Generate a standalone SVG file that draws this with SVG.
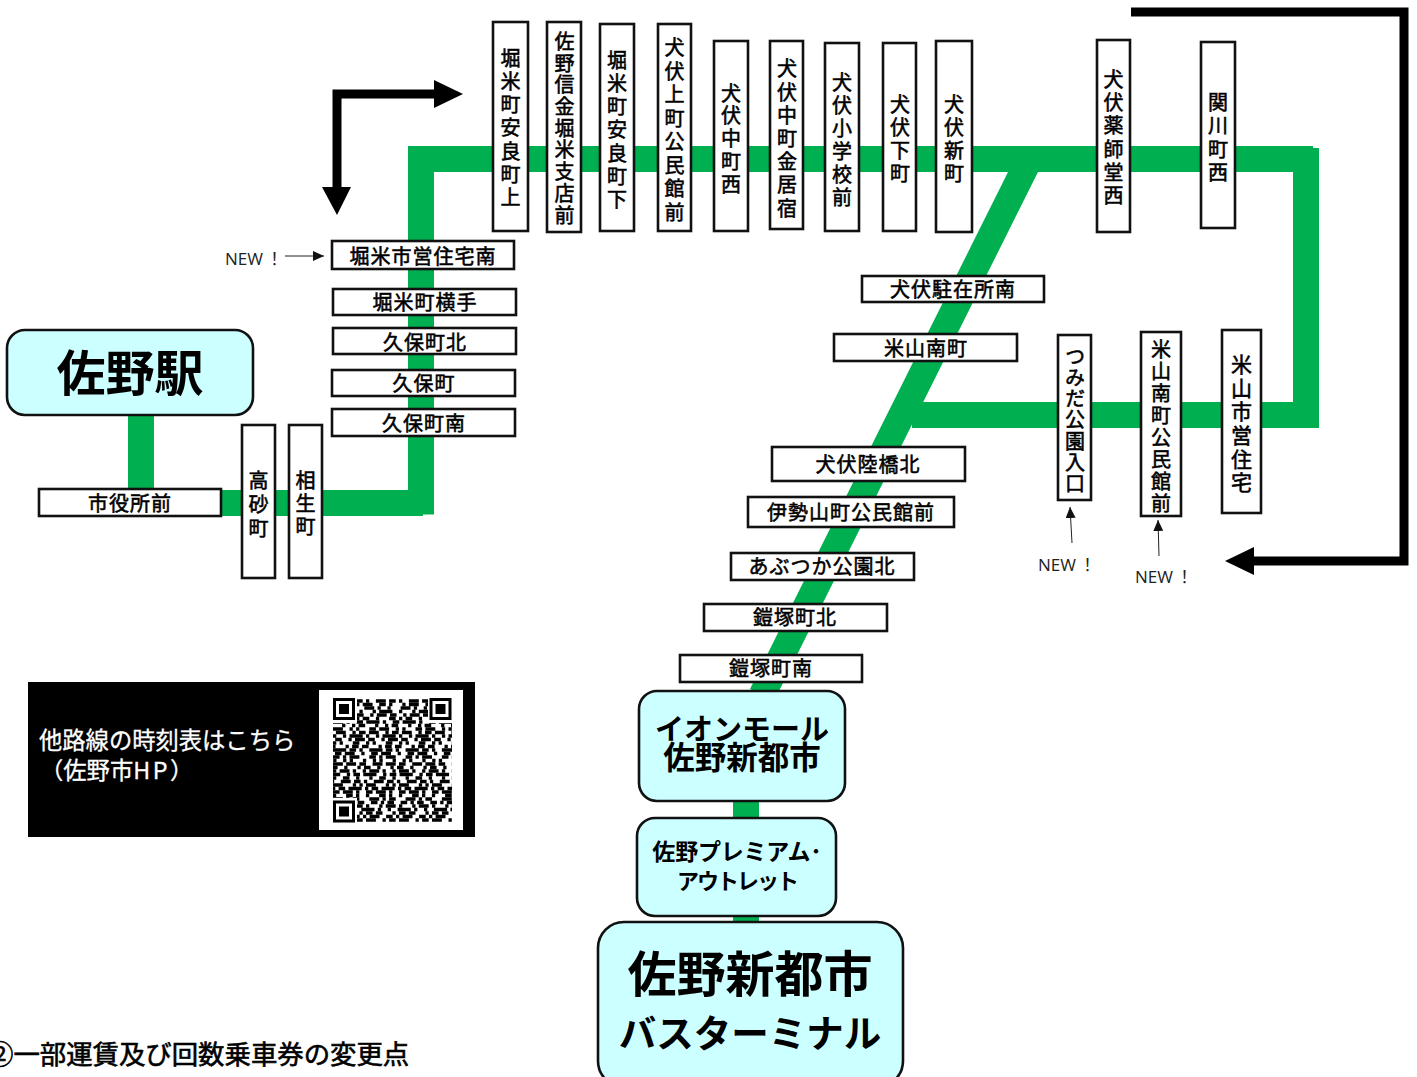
<svg xmlns="http://www.w3.org/2000/svg" width="1417" height="1077" viewBox="0 0 1417 1077">
<defs>
<style>
text{font-family:"Noto Sans CJK JP","Noto Sans",sans-serif;fill:#000}
.st{fill:#fff;stroke:#111;stroke-width:2.6}
.hub{fill:#ccffff;stroke:#111;stroke-width:2.6}
.h{font-size:20px;stroke:#000;stroke-width:.55px;letter-spacing:1px;text-anchor:middle}
.v{font-size:20px;stroke:#000;stroke-width:.55px;letter-spacing:3.2px;text-anchor:middle;writing-mode:vertical-rl}
.v2{letter-spacing:2.6px;font-size:21px}
.hb{font-weight:700;text-anchor:middle}
.new{font-family:"Open Sans","Noto Sans CJK JP",sans-serif;font-size:17px;fill:#222}
.line{fill:none;stroke:#00b050;stroke-width:26}
.diag{fill:none;stroke:#00b050;stroke-width:26.800}
.bk{fill:none;stroke:#000;stroke-width:9}
.thin{fill:none;stroke:#222;stroke-width:1;marker-end:url(#tip)}
.q{fill:none;stroke:#000;stroke-width:3.3}
.info{fill:#fff;stroke:#fff;stroke-width:.3px;font-size:23.300px}
</style>
<marker id="tip" markerUnits="userSpaceOnUse" markerWidth="12" markerHeight="10" refX="11" refY="5" orient="auto"><path d="M0 0L11 5L0 10Z" fill="#111"/></marker>
</defs>
<g id="connectors">
<path class="line" d="M141 415V503H423"/>
<path class="line" d="M421 514.500V159H1313"/>
<path class="line" d="M1306 148V415H912"/>
<path class="diag" d="M1029.500 159L762 695"/>
<path class="line" d="M746 800V820M746 915V925"/>
<path class="bk" d="M1131 12H1404V561H1250"/>
<path d="M1225 561L1254 547V575Z"/>
<path class="bk" d="M337 190V94H437"/>
<path d="M337 215L322 187H351Z"/>
<path d="M463 94L434 80V108Z"/>
<path class="thin" d="M285 256H324"/>
<path class="thin" d="M1072 543L1070 507"/>
<path class="thin" d="M1159 556L1158 520"/>
</g>
<g id="n-sano"><rect class="hub" x="7" y="330" width="246" height="85" rx="18"/><text class="hb" x="130" y="391" font-size="49">佐野駅</text></g>
<g id="n-shiyakusho"><rect class="st" x="39" y="489" width="182" height="27"/><text class="h" x="130" y="511">市役所前</text></g>
<g id="n-takasago"><rect class="st" x="242" y="425" width="33" height="153"/><text class="v" x="258.500" y="506" style="letter-spacing:4px">高砂町</text></g>
<g id="n-aioi"><rect class="st" x="289" y="425" width="33" height="153"/><text class="v" x="305.500" y="505" style="letter-spacing:3.200px">相生町</text></g>
<g id="n-kubominami"><rect class="st" x="332" y="409" width="183" height="27"/><text class="h" x="424" y="431">久保町南</text></g>
<g id="n-kubo"><rect class="st" x="332" y="370" width="183" height="26"/><text class="h" x="424" y="391">久保町</text></g>
<g id="n-kubokita"><rect class="st" x="333" y="328" width="183" height="26"/><text class="h" x="425" y="350">久保町北</text></g>
<g id="n-horiyokote"><rect class="st" x="333" y="289" width="183" height="26"/><text class="h" x="425" y="310">堀米町横手</text></g>
<g id="n-horijutaku"><rect class="st" x="332" y="241" width="182" height="28"/><text class="h" x="423" y="264">堀米市営住宅南</text></g>
<g id="n-new1"><text class="new" x="225" y="265">NEW<tspan dx="3">！</tspan></text></g>
<g id="n-s1"><rect class="st" x="493" y="22" width="35" height="209"/><text class="v" x="510.500" y="129.500">堀米町安良町上</text></g>
<g id="n-s2"><rect class="st" x="547" y="22" width="34" height="210"/><text class="v" x="564.500" y="129" style="letter-spacing:1.700px">佐野信金堀米支店前</text></g>
<g id="n-s3"><rect class="st" x="600" y="24" width="34" height="207"/><text class="v" x="617" y="131.500">堀米町安良町下</text></g>
<g id="n-s4"><rect class="st" x="658" y="24" width="33" height="207"/><text class="v" x="674.500" y="131.500" style="letter-spacing:3.500px">犬伏上町公民館前</text></g>
<g id="n-s5"><rect class="st" x="714" y="41" width="34" height="190"/><text class="v" x="731" y="140" style="letter-spacing:2.800px">犬伏中町西</text></g>
<g id="n-s6"><rect class="st" x="770" y="41" width="33" height="188"/><text class="v" x="787" y="140">犬伏中町金居宿</text></g>
<g id="n-s7"><rect class="st" x="825" y="43" width="34" height="188"/><text class="v" x="842" y="141" style="letter-spacing:3px">犬伏小学校前</text></g>
<g id="n-s8"><rect class="st" x="883" y="43" width="33" height="188"/><text class="v" x="900" y="140" style="letter-spacing:3px">犬伏下町</text></g>
<g id="n-s9"><rect class="st" x="936" y="41" width="36" height="191"/><text class="v" x="954" y="140" style="letter-spacing:3px">犬伏新町</text></g>
<g id="n-s10"><rect class="st" x="1097" y="40" width="33" height="192"/><text class="v" x="1113.500" y="139">犬伏薬師堂西</text></g>
<g id="n-s11"><rect class="st" x="1201" y="42" width="34" height="186"/><text class="v" x="1218" y="139">関川町西</text></g>
<g id="n-chuzai"><rect class="st" x="862" y="276" width="182" height="26"/><text class="h" x="953" y="297">犬伏駐在所南</text></g>
<g id="n-yonanmachi"><rect class="st" x="834" y="334" width="183" height="27"/><text class="h" x="926" y="356">米山南町</text></g>
<g id="n-tsumida"><rect class="st" x="1058" y="335" width="33" height="165"/><text class="v" x="1075" y="420.500" style="letter-spacing:1.200px">つみだ公園入口</text></g>
<g id="n-yonkominkan"><rect class="st" x="1141" y="332" width="40" height="184"/><text class="v" x="1161" y="427" style="letter-spacing:2px">米山南町公民館前</text></g>
<g id="n-yonjutaku"><rect class="st" x="1222" y="330" width="39" height="183"/><text class="v v2" x="1241.500" y="424.500">米山市営住宅</text></g>
<g id="n-new2"><text class="new" x="1038" y="571">NEW<tspan dx="3">！</tspan></text></g>
<g id="n-new3"><text class="new" x="1135" y="583">NEW<tspan dx="3">！</tspan></text></g>
<g id="n-rikkyo"><rect class="st" x="772" y="447" width="193" height="34"/><text class="h" x="868" y="472">犬伏陸橋北</text></g>
<g id="n-iseyama"><rect class="st" x="748" y="497" width="206" height="30"/><text class="h" x="851" y="520">伊勢山町公民館前</text></g>
<g id="n-abutsuka"><rect class="st" x="731" y="553" width="183" height="27"/><text class="h" x="822" y="574">あぶつか公園北</text></g>
<g id="n-abukita"><rect class="st" x="704" y="604" width="183" height="27"/><text class="h" x="795" y="625">鎧塚町北</text></g>
<g id="n-abuminami"><rect class="st" x="680" y="655" width="182" height="27"/><text class="h" x="771" y="676">鎧塚町南</text></g>
<g id="n-aeon"><rect class="hub" x="639" y="691" width="206" height="110" rx="18"/><text class="hb" x="742" y="740" font-size="29">イオンモール</text><text class="hb" x="742" y="769" font-size="31.500">佐野新都市</text></g>
<g id="n-outlet"><rect class="hub" x="637" y="818" width="199" height="98" rx="18"/><text class="hb" x="737" y="860" font-size="23" style="letter-spacing:-.2px">佐野プレミアム･</text><text class="hb" x="737" y="889" font-size="22" style="letter-spacing:-2px">アウトレット</text></g>
<g id="n-terminal"><rect class="hub" x="598" y="922" width="305" height="165" rx="26"/><text class="hb" x="750" y="992" font-size="49">佐野新都市</text><text class="hb" x="750" y="1047" font-size="37.500">バスターミナル</text></g>
<g id="info">
<rect x="28" y="682" width="447" height="155" fill="#000"/>
<text class="info" x="39" y="749">他路線の時刻表はこちら</text>
<text class="info" x="40" y="779">（佐野市<tspan style="letter-spacing:2.500px">HP</tspan>）</text>
<rect x="319" y="690" width="144" height="140" fill="#fff"/>
<g id="qr">
<g class="q">
<path d="M333 701H452" stroke-dasharray="3.300 6.600 9.900 3.300 6.600 3.300"/>
<path d="M333 704.500H452" stroke-dasharray="6.600 3.300 3.300 9.900 3.300 3.300 9.900 6.600"/>
<path d="M333 708H452" stroke-dasharray="9.900 3.300 3.300 6.600 3.300 9.900" stroke-dashoffset="5"/>
<path d="M333 711.500H452" stroke-dasharray="3.300 3.300 13.200 6.600 3.300 9.900"/>
<path d="M333 715H452" stroke-dasharray="6.600 6.600 3.300 3.300 9.900 3.300" stroke-dashoffset="9"/>
<path d="M333 718.500H452" stroke-dasharray="3.300 9.900 6.600 3.300 3.300 3.300 6.600 6.600"/>
<path d="M333 722H452" stroke-dasharray="13.200 3.300 3.300 6.600 6.600 3.300" stroke-dashoffset="3"/>
<path d="M333 725.500H452" stroke-dasharray="3.300 3.300 6.600 9.900 3.300 6.600" stroke-dashoffset="14"/>
<path d="M333 729H452" stroke-dasharray="9.900 6.600 3.300 3.300 3.300 9.900 6.600 3.300"/>
<path d="M333 732.500H452" stroke-dasharray="6.600 3.300 9.900 6.600 3.300 3.300" stroke-dashoffset="7"/>
<path d="M333 736H452" stroke-dasharray="3.300 6.600 3.300 3.300 13.200 3.300"/>
<path d="M333 739.500H452" stroke-dasharray="9.900 3.300 6.600 6.600 3.300 3.300" stroke-dashoffset="11"/>
<path d="M333 743H452" stroke-dasharray="3.300 3.300 3.300 9.900 6.600 6.600"/>
<path d="M333 746.500H452" stroke-dasharray="6.600 9.900 3.300 3.300 6.600 3.300" stroke-dashoffset="4"/>
<path d="M333 750H452" stroke-dasharray="13.200 3.300 6.600 3.300 3.300 6.600"/>
<path d="M333 753.500H452" stroke-dasharray="3.300 6.600 6.600 3.300 9.900 6.600" stroke-dashoffset="8"/>
<path d="M333 757H452" stroke-dasharray="6.600 3.300 3.300 3.300 9.900 9.900"/>
<path d="M333 760.500H452" stroke-dasharray="3.300 9.900 3.300 6.600 3.300 3.300" stroke-dashoffset="13"/>
<path d="M333 764H452" stroke-dasharray="9.900 3.300 9.900 3.300 6.600 6.600"/>
<path d="M333 767.500H452" stroke-dasharray="6.600 6.600 3.300 9.900 3.300 3.300" stroke-dashoffset="2"/>
<path d="M333 771H452" stroke-dasharray="3.300 3.300 9.900 3.300 3.300 6.600"/>
<path d="M333 774.500H452" stroke-dasharray="13.200 6.600 3.300 3.300 6.600 3.300" stroke-dashoffset="6"/>
<path d="M333 778H452" stroke-dasharray="3.300 6.600 6.600 6.600 3.300 9.900"/>
<path d="M333 781.500H452" stroke-dasharray="6.600 3.300 3.300 6.600 9.900 3.300" stroke-dashoffset="12"/>
<path d="M333 785H452" stroke-dasharray="9.900 9.900 3.300 3.300 3.300 3.300"/>
<path d="M333 788.500H452" stroke-dasharray="3.300 3.300 6.600 3.300 13.200 3.300" stroke-dashoffset="1"/>
<path d="M333 792H452" stroke-dasharray="6.600 3.300 9.900 3.300 3.300 6.600"/>
<path d="M333 795.500H452" stroke-dasharray="3.300 6.600 3.300 9.900 6.600 3.300" stroke-dashoffset="10"/>
<path d="M333 799H452" stroke-dasharray="9.900 3.300 3.300 3.300 6.600 9.900"/>
<path d="M333 802.500H452" stroke-dasharray="6.600 6.600 6.600 3.300 3.300 3.300" stroke-dashoffset="5"/>
<path d="M333 806H452" stroke-dasharray="3.300 9.900 3.300 3.300 9.900 3.300"/>
<path d="M333 809.500H452" stroke-dasharray="13.200 3.300 3.300 6.600 3.300 6.600" stroke-dashoffset="8"/>
<path d="M333 813H452" stroke-dasharray="6.600 3.300 6.600 9.900 3.300 3.300"/>
<path d="M333 816.500H452" stroke-dasharray="3.300 3.300 9.900 6.600 6.600 3.300" stroke-dashoffset="3"/>
<path d="M333 820H452" stroke-dasharray="9.900 6.600 3.300 3.300 6.600 3.300"/>
</g>
<g id="finders" fill="#fff">
<rect x="331" y="697" width="26" height="26"/><rect x="428" y="697" width="26" height="26"/><rect x="331" y="798" width="26" height="26"/>
</g>
<g fill="none" stroke="#000" stroke-width="3">
<rect x="334.500" y="699.500" width="19" height="19"/><rect x="431" y="699.500" width="19" height="19"/><rect x="334.500" y="802" width="19" height="19"/>
</g>
<rect x="339" y="704" width="10" height="10"/><rect x="435.500" y="704" width="10" height="10"/><rect x="339" y="806.500" width="10" height="10"/>
</g>
</g>
<text id="note" x="-13" y="1064" font-size="26.400" stroke="#000" stroke-width=".6">②一部運賃及び回数乗車券の変更点</text>
</svg>
